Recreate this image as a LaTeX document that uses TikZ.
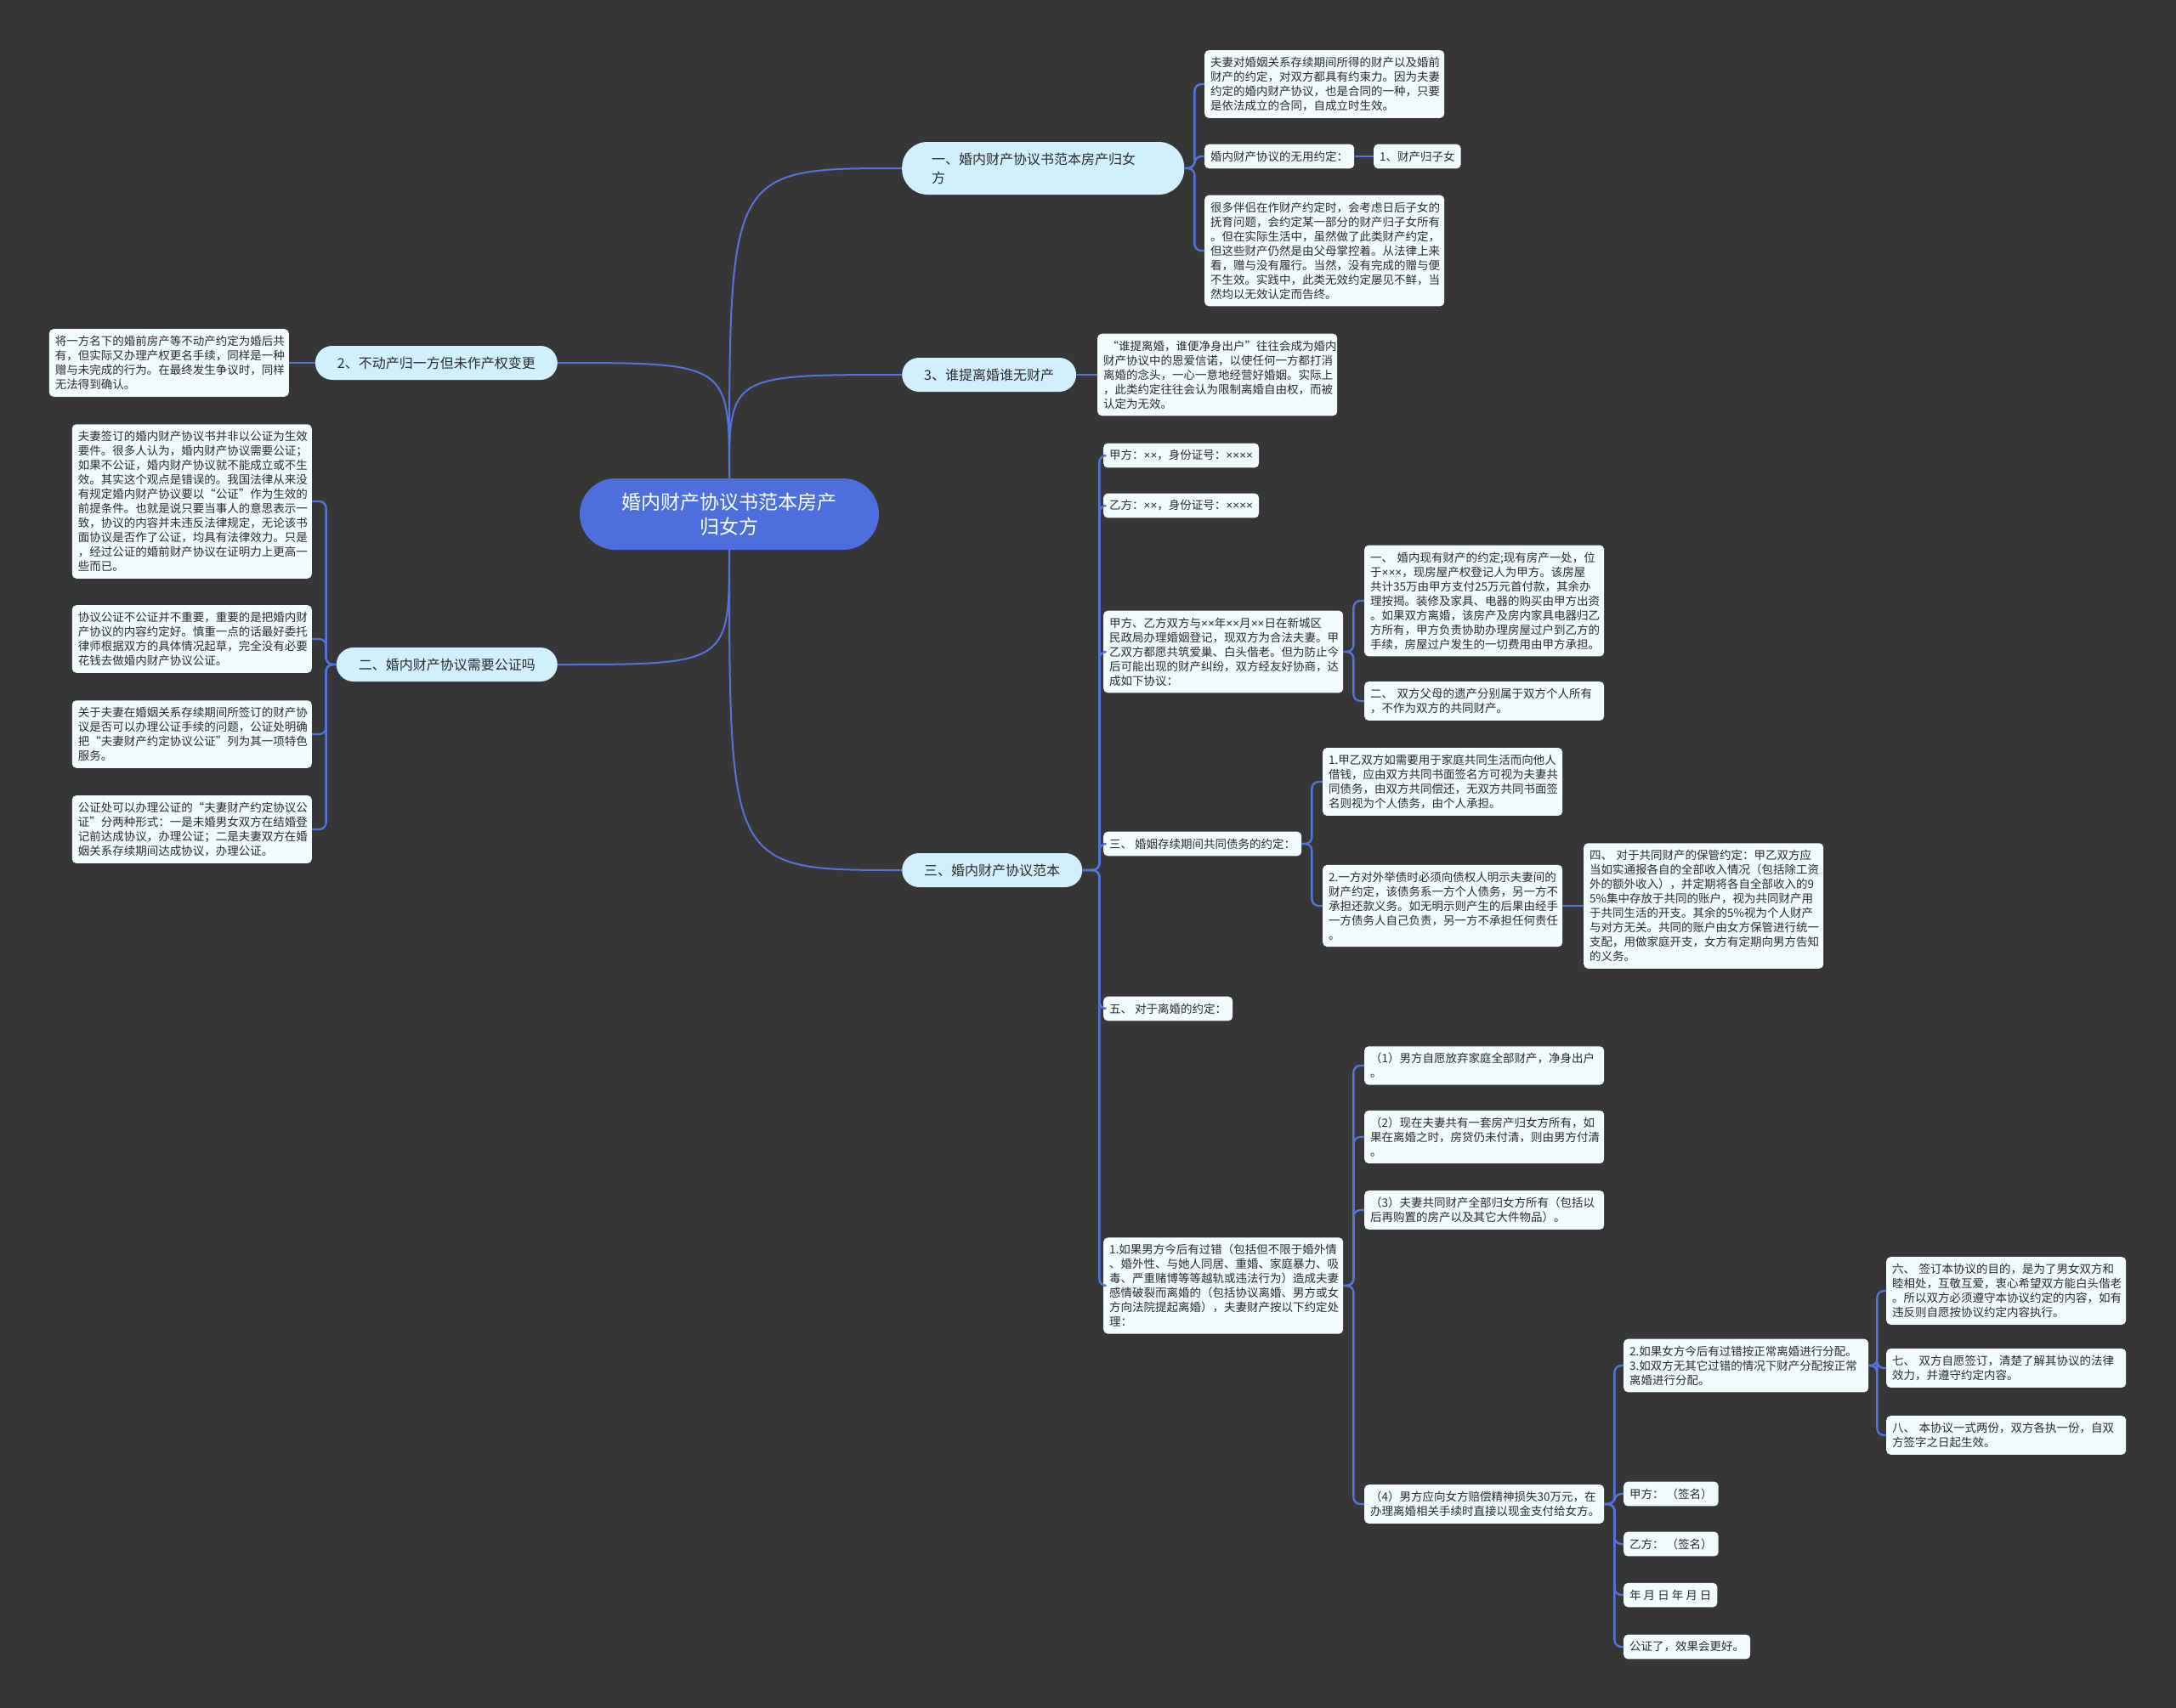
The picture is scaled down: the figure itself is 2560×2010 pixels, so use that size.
\documentclass[tikz,border=0pt]{standalone}
\usepackage{fontspec}
\setmainfont{Noto Sans CJK SC}
\newfontfamily\crossfont{Liberation Sans}
\usetikzlibrary{calc}
\definecolor{bgdark}{HTML}{363636}
\definecolor{rootblue}{HTML}{4E6EDE}
\definecolor{branchfill}{HTML}{D2EFFC}
\definecolor{leaffill}{HTML}{F2FBFE}
\definecolor{inkdark}{HTML}{2B2B2B}
\definecolor{linkblue}{HTML}{5473D8}
\newcommand{\mulx}[1]{{\crossfont #1}}
\tikzset{root/.style={rectangle,rounded corners=42pt,fill=rootblue,text=white,
  minimum width=352pt,minimum height=84pt,align=center,
  font=\fontsize{23}{29}\selectfont},
  branch/.style={rectangle,rounded corners=20pt,fill=branchfill,text=inkdark,
  minimum height=40pt,inner xsep=26pt,font=\fontsize{16}{22}\selectfont},
  leaf/.style={rectangle,rounded corners=5pt,fill=leaffill,text=inkdark,
  inner xsep=7pt,inner ysep=8pt,align=left,font=\fontsize{13.5}{17}\selectfont},
  longleaf/.style={leaf,text width=268pt},
  trunk/.style={draw=linkblue,line width=2pt},
  link/.style={draw=linkblue,line width=2.4pt,rounded corners=8pt}}

\begin{document}
\begin{tikzpicture}[x=1pt,y=-1pt]
 \fill[bgdark] (0,0) rectangle (2560,2010);
 \useasboundingbox (0,0) rectangle (2560,2010);
 % centre and main branches
 \node[root] (root) at (858,605) {婚内财产协议书范本房产\\归女方};
 \node[branch,anchor=west,rounded corners=30pt,text width=262pt,inner xsep=35pt,
  align=left,minimum height=62pt] (one) at (1061,198) {一、婚内财产协议书范本房产归女\\方};
 \node[branch,anchor=west] (three) at (1061,441) {3、谁提离婚谁无财产};
 \node[branch,anchor=east] (two) at (656,427) {2、不动产归一方但未作产权变更};
 \node[branch,anchor=east] (notar) at (656,782) {二、婚内财产协议需要公证吗};
 \node[branch,anchor=west] (sample) at (1061,1024) {三、婚内财产协议范本};
 \draw[trunk] (root.north) .. controls (root.north |- one.west) .. (one.west);
 \draw[trunk] (root.north) .. controls (root.north |- three.west) .. (three.west);
 \draw[trunk] (root.north) .. controls (root.north |- two.east) .. (two.east);
 \draw[trunk] (root.south) .. controls (root.south |- notar.east) .. (notar.east);
 \draw[trunk] (root.south) .. controls (root.south |- sample.west) .. (sample.west);

 % branch one
 \node[longleaf,anchor=west] (bind) at (1417,99) {夫妻对婚姻关系存续期间所得的财产以及婚前\\财产的约定，对双方都具有约束力。因为夫妻\\约定的婚内财产协议，也是合同的一种，只要\\是依法成立的合同，自成立时生效。};
 \node[leaf,anchor=west] (useless) at (1417,184) {婚内财产协议的无用约定：};
 \node[leaf,anchor=west] (child) at (1616,184) {1、财产归子女};
 \node[longleaf,anchor=west] (gift) at (1417,295) {很多伴侣在作财产约定时，会考虑日后子女的\\抚育问题，会约定某一部分的财产归子女所有\\。但在实际生活中，虽然做了此类财产约定，\\但这些财产仍然是由父母掌控着。从法律上来\\看，赠与没有履行。当然，没有完成的赠与便\\不生效。实践中，此类无效约定屡见不鲜，当\\然均以无效认定而告终。};
 \foreach \k in {bind,useless,gift} \draw[link] (one.east) -- ++(12,0) |- (\k.west);
 \draw[link] (useless) -- (child);

 % branch 3 and branch 2
 \node[longleaf,anchor=west] (promise) at (1291,441) {\ “谁提离婚，谁便净身出户”往往会成为婚内\\财产协议中的恩爱信诺，以使任何一方都打消\\离婚的念头，一心一意地经营好婚姻。实际上\\，此类约定往往会认为限制离婚自由权，而被\\认定为无效。};
 \draw[link] (three) -- (promise);
 \node[longleaf,anchor=east] (estate) at (340,427) {将一方名下的婚前房产等不动产约定为婚后共\\有，但实际又办理产权更名手续，同样是一种\\赠与未完成的行为。在最终发生争议时，同样\\无法得到确认。};
 \draw[link] (two) -- (estate);

 % branch 二
 \node[longleaf,anchor=east] (nr1) at (367,590) {夫妻签订的婚内财产协议书并非以公证为生效\\要件。很多人认为，婚内财产协议需要公证；\\如果不公证，婚内财产协议就不能成立或不生\\效。其实这个观点是错误的。我国法律从来没\\有规定婚内财产协议要以“公证”作为生效的\\前提条件。也就是说只要当事人的意思表示一\\致，协议的内容并未违反法律规定，无论该书\\面协议是否作了公证，均具有法律效力。只是\\，经过公证的婚前财产协议在证明力上更高一\\些而已。};
 \node[longleaf,anchor=east] (nr2) at (367,752) {协议公证不公证并不重要，重要的是把婚内财\\产协议的内容约定好。慎重一点的话最好委托\\律师根据双方的具体情况起草，完全没有必要\\花钱去做婚内财产协议公证。};
 \node[longleaf,anchor=east] (nr3) at (367,864) {关于夫妻在婚姻关系存续期间所签订的财产协\\议是否可以办理公证手续的问题，公证处明确\\把“夫妻财产约定协议公证”列为其一项特色\\服务。};
 \node[longleaf,anchor=east] (nr4) at (367,976) {公证处可以办理公证的“夫妻财产约定协议公\\证”分两种形式：一是未婚男女双方在结婚登\\记前达成协议，办理公证；二是夫妻双方在婚\\姻关系存续期间达成协议，办理公证。};
 \foreach \k in {1,...,4} \draw[link] (notar.west) -- ++(-12,0) |- (nr\k.east);

 % branch 三
 \node[leaf,anchor=west] (jia) at (1298,536) {甲方：\mulx{××}，身份证号：\mulx{××××}};
 \node[leaf,anchor=west] (yi) at (1298,595) {乙方：\mulx{××}，身份证号：\mulx{××××}};
 \node[longleaf,anchor=west] (intro) at (1298,767) {甲方、乙方双方与\mulx{××}年\mulx{××}月\mulx{××}日在新城区\\民政局办理婚姻登记，现双方为合法夫妻。甲\\乙双方都愿共筑爱巢、白头偕老。但为防止今\\后可能出现的财产纠纷，双方经友好协商，达\\成如下协议：};
 \node[leaf,anchor=west] (debt) at (1298,993) {三、\ 婚姻存续期间共同债务的约定：};
 \node[leaf,anchor=west] (divorce) at (1298,1187) {五、\ 对于离婚的约定：};
 \node[longleaf,anchor=west] (fault) at (1298,1513) {1.如果男方今后有过错（包括但不限于婚外情\\、婚外性、与她人同居、重婚、家庭暴力、吸\\毒、严重赌博等等越轨或违法行为）造成夫妻\\感情破裂而离婚的（包括协议离婚、男方或女\\方向法院提起离婚），夫妻财产按以下约定处\\理：};
 \foreach \k in {jia,yi,intro,debt,divorce,fault} \draw[link] (sample.east) -- ++(20,0) |- (\k.west);

 \node[longleaf,anchor=west] (house) at (1605,707) {一、\ 婚内现有财产的约定;现有房产一处，位\\于\mulx{×××}，现房屋产权登记人为甲方。该房屋\\共计35万由甲方支付25万元首付款，其余办\\理按揭。装修及家具、电器的购买由甲方出资\\。如果双方离婚，该房产及房内家具电器归乙\\方所有，甲方负责协助办理房屋过户到乙方的\\手续，房屋过户发生的一切费用由甲方承担。};
 \node[longleaf,anchor=west] (inherit) at (1605,825) {二、\ 双方父母的遗产分别属于双方个人所有\\，不作为双方的共同财产。};
 \foreach \k in {house,inherit} \draw[link] (intro.east) -- ++(12,0) |- (\k.west);

 \node[longleaf,anchor=west] (loan) at (1556,920) {1.甲乙双方如需要用于家庭共同生活而向他人\\借钱，应由双方共同书面签名方可视为夫妻共\\同债务，由双方共同偿还，无双方共同书面签\\名则视为个人债务，由个人承担。};
 \node[longleaf,anchor=west] (extdebt) at (1556,1066) {2.一方对外举债时必须向债权人明示夫妻间的\\财产约定，该债务系一方个人债务，另一方不\\承担还款义务。如无明示则产生的后果由经手\\一方债务人自己负责，另一方不承担任何责任\\。};
 \node[longleaf,anchor=west] (custody) at (1863,1066) {四、\ 对于共同财产的保管约定：甲乙双方应\\当如实通报各自的全部收入情况（包括除工资\\外的额外收入），并定期将各自全部收入的9\\5\%集中存放于共同的账户，视为共同财产用\\于共同生活的开支。其余的5\%视为个人财产\\与对方无关。共同的账户由女方保管进行统一\\支配，用做家庭开支，女方有定期向男方告知\\的义务。};
 \foreach \k in {loan,extdebt} \draw[link] (debt.east) -- ++(12,0) |- (\k.west);
 \draw[link] (extdebt) -- (custody);

 \node[longleaf,anchor=west] (f1) at (1605,1254) {（1）男方自愿放弃家庭全部财产，净身出户\\。};
 \node[longleaf,anchor=west] (f2) at (1605,1338) {（2）现在夫妻共有一套房产归女方所有，如\\果在离婚之时，房贷仍未付清，则由男方付清\\。};
 \node[longleaf,anchor=west] (f3) at (1605,1424) {（3）夫妻共同财产全部归女方所有（包括以\\后再购置的房产以及其它大件物品）。};
 \node[longleaf,anchor=west] (f4) at (1605,1770) {（4）男方应向女方赔偿精神损失30万元，在\\办理离婚相关手续时直接以现金支付给女方。};
 \foreach \k in {1,...,4} \draw[link] (fault.east) -- ++(12,0) |- (f\k.west);

 \node[longleaf,anchor=west,text width=274pt] (wifefault) at (1910,1607) {2.如果女方今后有过错按正常离婚进行分配。\\3.如双方无其它过错的情况下财产分配按正常\\离婚进行分配。};
 \node[leaf,anchor=west] (signa) at (1910,1758) {甲方： （签名）};
 \node[leaf,anchor=west] (signb) at (1910,1817) {乙方： （签名）};
 \node[leaf,anchor=west] (date) at (1910,1877) {年 月 日 年 月 日};
 \node[leaf,anchor=west] (notary) at (1910,1938) {公证了，效果会更好。};
 \foreach \k in {wifefault,signa,signb,date,notary} \draw[link] (f4.east) -- ++(12,0) |- (\k.west);

 \node[longleaf,anchor=west] (six) at (2219,1519) {六、\ 签订本协议的目的，是为了男女双方和\\睦相处，互敬互爱，衷心希望双方能白头偕老\\。所以双方必须遵守本协议约定的内容，如有\\违反则自愿按协议约定内容执行。};
 \node[longleaf,anchor=west] (seven) at (2219,1610) {七、\ 双方自愿签订，清楚了解其协议的法律\\效力，并遵守约定内容。};
 \node[longleaf,anchor=west] (eight) at (2219,1689) {八、\ 本协议一式两份，双方各执一份，自双\\方签字之日起生效。};
 \foreach \k in {six,seven,eight} \draw[link] (wifefault.east) -- ++(10,0) |- (\k.west);
\end{tikzpicture}
\end{document}
